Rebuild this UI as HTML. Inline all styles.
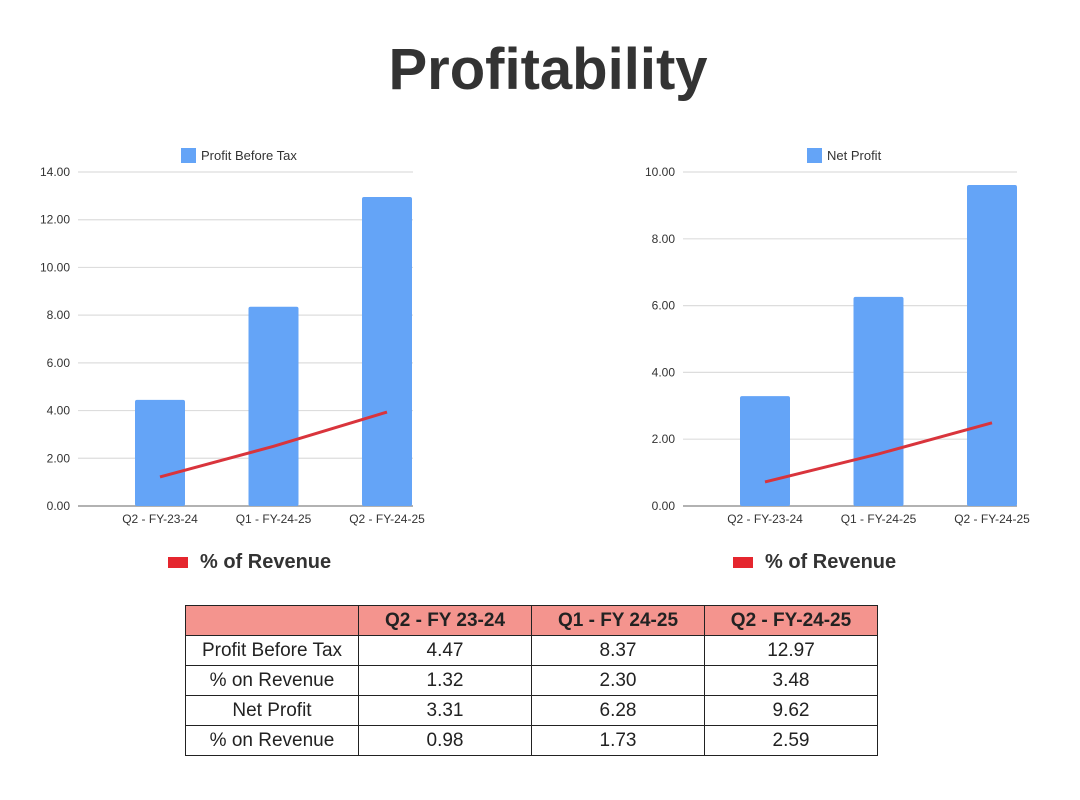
<!DOCTYPE html>
<html><head><meta charset="utf-8"><style>
body{margin:0;background:#fff;width:1080px;height:800px;overflow:hidden;font-family:"Liberation Sans",sans-serif;}
#title{position:absolute;left:0;width:1096px;top:36px;text-align:center;font-size:58px;font-weight:bold;color:#333;letter-spacing:0px}
table{position:absolute;left:185px;top:605px;border-collapse:collapse;font-size:19px;color:#222}
td,th{border:1.5px solid #222;height:29px;text-align:center;padding:0}
th{background:#f4948e;font-weight:bold}
</style></head><body>
<div id="title">Profitability</div>
<svg id="c" width="1080" height="600" style="position:absolute;left:0;top:0"></svg>
<table>
<tr><th style="width:172px;background:#f4948e"></th><th style="width:172px">Q2 - FY 23-24</th><th style="width:172px">Q1 - FY 24-25</th><th style="width:172px">Q2 - FY-24-25</th></tr>
<tr><td>Profit Before Tax</td><td>4.47</td><td>8.37</td><td>12.97</td></tr>
<tr><td>% on Revenue</td><td>1.32</td><td>2.30</td><td>3.48</td></tr>
<tr><td>Net Profit</td><td>3.31</td><td>6.28</td><td>9.62</td></tr>
<tr><td>% on Revenue</td><td>0.98</td><td>1.73</td><td>2.59</td></tr>
</table>
<script>
const categories=["Q2 - FY-23-24","Q1 - FY-24-25","Q2 - FY-24-25"];
const pbtValues=[4.45,8.35,12.95];
const pbtPct=[1.22,2.5,3.94];
const pbtTicks=["0.00","2.00","4.00","6.00","8.00","10.00","12.00","14.00"];
const npValues=[3.29,6.26,9.61];
const npPct=[0.72,1.56,2.49];
const npTicks=["0.00","2.00","4.00","6.00","8.00","10.00"];
const svg=document.getElementById('c');
const NS="http://www.w3.org/2000/svg";
function mk(t,a,txt){const e=document.createElementNS(NS,t);for(const k in a)e.setAttribute(k,a[k]);if(txt!==undefined)e.textContent=txt;svg.appendChild(e);return e;}
function chart(prefix,x0,x1,labelRight,barStart,ticks,max,vals,pct,legend,legX,revX){
  const y0=506,yTop=172;
  const ys=v=>y0-(v/max)*(y0-yTop);
  const step=113.5;
  const xc=i=>barStart+25+i*step;
  ticks.forEach((t,i)=>{const v=i*max/(ticks.length-1);
    const g=mk('line',{x1:x0,x2:x1,y1:ys(v),y2:ys(v),stroke:i==0?'#999':'#ddd','stroke-width':i==0?1.5:1.2});
    
    const l=mk('text',{x:labelRight,y:ys(v)+4,'text-anchor':'end','font-size':12,fill:'#333'},t);
    });
  vals.forEach((v,i)=>{const b=mk('rect',{x:xc(i)-25,y:ys(v),width:50,height:y0-ys(v),fill:'#64a4f7',rx:2});
    
    const l=mk('text',{x:xc(i),y:523,'text-anchor':'middle','font-size':12,fill:'#333'},categories[i]);
    });
  const p=mk('polyline',{points:pct.map((v,i)=>xc(i)+','+ys(v)).join(' '),fill:'none',stroke:'#d9343c','stroke-width':3});
  
  const s=mk('rect',{x:legX,y:148,width:15,height:15,fill:'#64a4f7'});
  
  const lt=mk('text',{x:legX+20,y:160,'font-size':13,fill:'#333'},legend);
  
  const rs=mk('rect',{x:revX,y:557,width:20,height:11,fill:'#e5262e'});
  
  const rt=mk('text',{x:revX+32,y:568,'font-size':20,'font-weight':'bold',fill:'#333'},'% of Revenue');
  
}
chart('pbt',78,413,70,135,pbtTicks,14,pbtValues,pbtPct,'Profit Before Tax',181,168);
chart('np',683,1017,675,740,npTicks,10,npValues,npPct,'Net Profit',807,733);
</script>
</body></html>
